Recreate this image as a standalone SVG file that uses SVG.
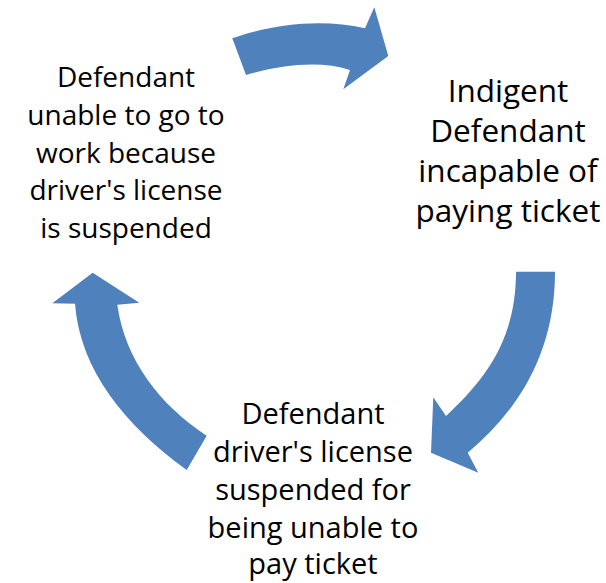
<svg xmlns="http://www.w3.org/2000/svg" width="606" height="583" viewBox="0 0 606 583">
<style>
.arrow{fill:#4F81BD;stroke:none}
.lbl{font-family:"Open Sans","Liberation Sans",sans-serif;font-size:29px;fill:#000;text-anchor:middle}
.l{font-size:28px}
.r{font-size:31.5px}
</style>
<rect width="606" height="583" fill="#fff"/>
<g id="connectors">
<path class="arrow" d="M232.3,38.3 C270,25 320,18 365,28.3 L374.3,7.3 L388.3,56 L343.3,89.3 L350,70 C320,60 280,65 246,75 Z"/>
<path class="arrow" d="M516,271.7 L555,271.7 C555,345 525,405 467.7,452.7 L478.3,472.7 L431,452.7 L433.3,397.3 L446,416 C485,380 516,340 516,271.7 Z"/>
<path class="arrow" d="M186.7,470 C125,425 80,370 75,303.7 L52.3,303.3 L92.7,272.7 L139.3,302.7 L117.3,304.7 C125,360 160,405 206.7,435.7 Z"/>
</g>
<g id="node-left">
<text class="lbl l" x="126" y="87">Defendant</text>
<text class="lbl l" x="126" y="125">unable to go to</text>
<text class="lbl l" x="126" y="163">work because</text>
<text class="lbl l" x="126" y="200">driver's license</text>
<text class="lbl l" x="126" y="238">is suspended</text>
</g>
<g id="node-right">
<text class="lbl r" x="508" y="102">Indigent</text>
<text class="lbl r" x="508" y="142">Defendant</text>
<text class="lbl r" x="508" y="182">incapable of</text>
<text class="lbl r" x="508" y="222">paying ticket</text>
</g>
<g id="node-bottom">
<text class="lbl" x="313" y="424">Defendant</text>
<text class="lbl" x="313" y="462">driver's license</text>
<text class="lbl" x="313" y="500">suspended for</text>
<text class="lbl" x="313" y="538">being unable to</text>
<text class="lbl" x="313" y="574">pay ticket</text>
</g>
</svg>
